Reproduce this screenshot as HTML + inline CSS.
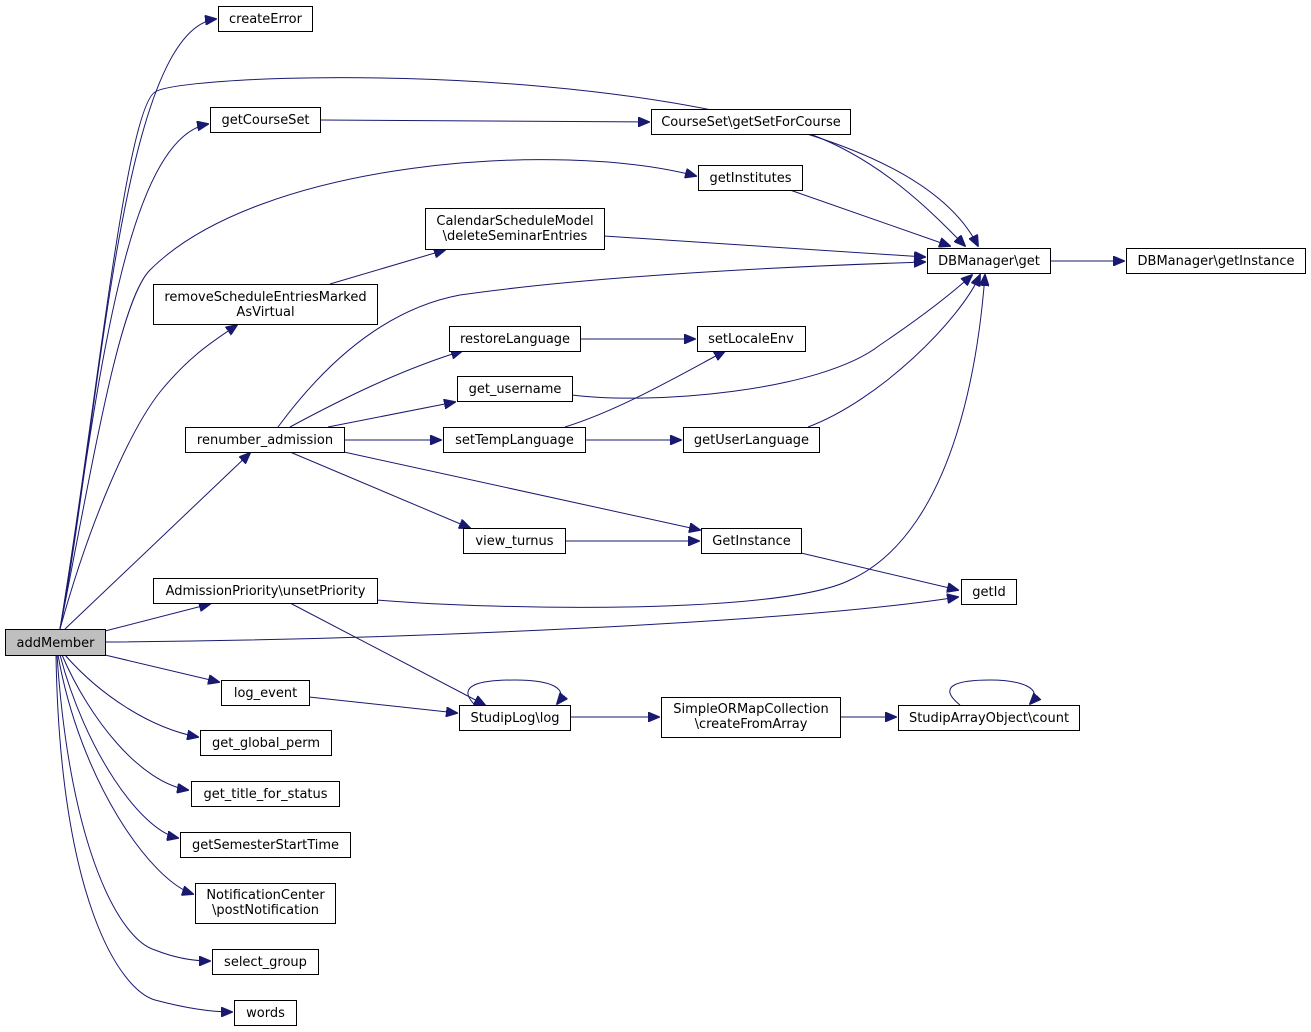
<!DOCTYPE html>
<html><head><meta charset="utf-8"><style>
html,body{margin:0;padding:0;background:#fff;}
svg{display:block;}
text{font-family:"DejaVu Sans","Liberation Sans",sans-serif;font-size:13px;fill:#000;}
.n{fill:#fff;stroke:#000;stroke-width:1;}
.e{fill:none;stroke:#191970;stroke-width:1;}
</style></head><body>
<svg width="1311" height="1032" viewBox="0 0 1311 1032" xmlns="http://www.w3.org/2000/svg">
<defs><marker id="a" markerWidth="12" markerHeight="10" refX="11" refY="5" orient="auto" markerUnits="userSpaceOnUse"><path d="M0,0 L12,5 L0,10 z" fill="#191970" stroke="#191970"/></marker></defs>
<g class="e" marker-end="url(#a)">
<path d="M60,629 C100,420 120,30 216,19"/>
<path d="M60,629 C95,420 125,110 155,92 C190,68 880,50 978,246"/>
<path d="M60,629 C95,420 120,140 208,124"/>
<path d="M60,629 C95,450 120,300 150,270 C260,160 560,140 696,176"/>
<path d="M60,629 C90,520 130,430 160,392 C190,355 215,340 237,325"/>
<path d="M65,629 L250,453"/>
<path d="M105,631 L210,604"/>
<path d="M105,642 C400,640 800,622 958,597"/>
<path d="M105,655 L219,682"/>
<path d="M65,655 C100,695 150,728 198,737"/>
<path d="M62,655 C90,720 140,782 188,790"/>
<path d="M60,655 C85,750 140,830 178,838"/>
<path d="M58,655 C80,780 150,880 193,894"/>
<path d="M57,655 C70,850 120,940 155,950 C175,958 195,961 210,961"/>
<path d="M56,655 C60,900 120,990 155,1000 C185,1008 210,1012 232,1012"/>
<path d="M320,120 L649,122"/>
<path d="M810,134 C880,160 930,210 965,246"/>
<path d="M790,190 L950,246"/>
<path d="M604,236 L925,257"/>
<path d="M1050,261 L1124,261"/>
<path d="M330,284 L445,250"/>
<path d="M278,427 C320,370 380,310 460,295 C600,275 800,266 925,262"/>
<path d="M290,427 C340,400 400,370 462,351"/>
<path d="M328,427 L455,402"/>
<path d="M344,440 L441,440"/>
<path d="M290,452 L470,528"/>
<path d="M344,452 L700,530"/>
<path d="M580,339 L695,339"/>
<path d="M572,395 C650,405 820,392 880,345 C920,318 950,295 972,275"/>
<path d="M565,427 C620,410 680,375 725,351"/>
<path d="M585,440 L681,440"/>
<path d="M808,427 C880,400 960,320 980,275"/>
<path d="M565,541 L699,541"/>
<path d="M801,553 L958,590"/>
<path d="M377,600 C500,610 780,615 850,580 C960,530 980,340 985,275"/>
<path d="M290,603 L485,705"/>
<path d="M309,697 L457,713"/>
<path d="M475,705 C455,685 480,680 515,680 C550,680 570,688 557,704"/>
<path d="M570,717 L659,717"/>
<path d="M840,717 L896,717"/>
<path d="M960,705 C935,685 960,680 990,680 C1020,680 1045,688 1030,704"/>
</g>
<rect x="5.5" y="629.5" width="100" height="26" fill="#bfbfbf" stroke="#000"/><text x="55.5" y="647" text-anchor="middle">addMember</text>
<rect class="n" x="218.5" y="6.5" width="94" height="25"/><text x="265.5" y="23" text-anchor="middle">createError</text>
<rect class="n" x="210.5" y="107.5" width="110" height="25"/><text x="265.5" y="124" text-anchor="middle">getCourseSet</text>
<rect class="n" x="651.5" y="109.5" width="199" height="25"/><text x="751" y="126" text-anchor="middle">CourseSet\getSetForCourse</text>
<rect class="n" x="698.5" y="165.5" width="104" height="25"/><text x="750.5" y="182" text-anchor="middle">getInstitutes</text>
<rect class="n" x="425.5" y="208.5" width="179" height="41"/><text x="515" y="225" text-anchor="middle">CalendarScheduleModel</text><text x="515" y="240" text-anchor="middle">\deleteSeminarEntries</text>
<rect class="n" x="927.5" y="248.5" width="123" height="25"/><text x="989" y="265" text-anchor="middle">DBManager\get</text>
<rect class="n" x="1126.5" y="248.5" width="179" height="25"/><text x="1216" y="265" text-anchor="middle">DBManager\getInstance</text>
<rect class="n" x="153.5" y="284.5" width="224" height="40"/><text x="265.5" y="301" text-anchor="middle">removeScheduleEntriesMarked</text><text x="265.5" y="316" text-anchor="middle">AsVirtual</text>
<rect class="n" x="449.5" y="326.5" width="131" height="25"/><text x="515" y="343" text-anchor="middle">restoreLanguage</text>
<rect class="n" x="697.5" y="326.5" width="108" height="25"/><text x="751" y="343" text-anchor="middle">setLocaleEnv</text>
<rect class="n" x="457.5" y="376.5" width="115" height="25"/><text x="515" y="393" text-anchor="middle">get_username</text>
<rect class="n" x="185.5" y="427.5" width="159" height="25"/><text x="265" y="444" text-anchor="middle">renumber_admission</text>
<rect class="n" x="443.5" y="427.5" width="142" height="25"/><text x="514.5" y="444" text-anchor="middle">setTempLanguage</text>
<rect class="n" x="683.5" y="427.5" width="136" height="25"/><text x="751.5" y="444" text-anchor="middle">getUserLanguage</text>
<rect class="n" x="463.5" y="528.5" width="102" height="25"/><text x="514.5" y="545" text-anchor="middle">view_turnus</text>
<rect class="n" x="701.5" y="528.5" width="100" height="25"/><text x="751.5" y="545" text-anchor="middle">GetInstance</text>
<rect class="n" x="153.5" y="578.5" width="224" height="25"/><text x="265.5" y="595" text-anchor="middle">AdmissionPriority\unsetPriority</text>
<rect class="n" x="961.5" y="579.5" width="55" height="25"/><text x="989" y="596" text-anchor="middle">getId</text>
<rect class="n" x="221.5" y="680.5" width="88" height="25"/><text x="265.5" y="697" text-anchor="middle">log_event</text>
<rect class="n" x="459.5" y="705.5" width="111" height="25"/><text x="515" y="722" text-anchor="middle">StudipLog\log</text>
<rect class="n" x="661.5" y="697.5" width="179" height="40"/><text x="751" y="713" text-anchor="middle">SimpleORMapCollection</text><text x="751" y="728" text-anchor="middle">\createFromArray</text>
<rect class="n" x="898.5" y="705.5" width="181" height="25"/><text x="989" y="722" text-anchor="middle">StudipArrayObject\count</text>
<rect class="n" x="200.5" y="730.5" width="131" height="25"/><text x="266" y="747" text-anchor="middle">get_global_perm</text>
<rect class="n" x="191.5" y="781.5" width="148" height="25"/><text x="265.5" y="798" text-anchor="middle">get_title_for_status</text>
<rect class="n" x="180.5" y="832.5" width="170" height="25"/><text x="265.5" y="849" text-anchor="middle">getSemesterStartTime</text>
<rect class="n" x="195.5" y="883.5" width="140" height="40"/><text x="265.5" y="899" text-anchor="middle">NotificationCenter</text><text x="265.5" y="914" text-anchor="middle">\postNotification</text>
<rect class="n" x="212.5" y="949.5" width="106" height="25"/><text x="265.5" y="966" text-anchor="middle">select_group</text>
<rect class="n" x="234.5" y="1000.5" width="62" height="25"/><text x="265.5" y="1017" text-anchor="middle">words</text>
</svg>
</body></html>
